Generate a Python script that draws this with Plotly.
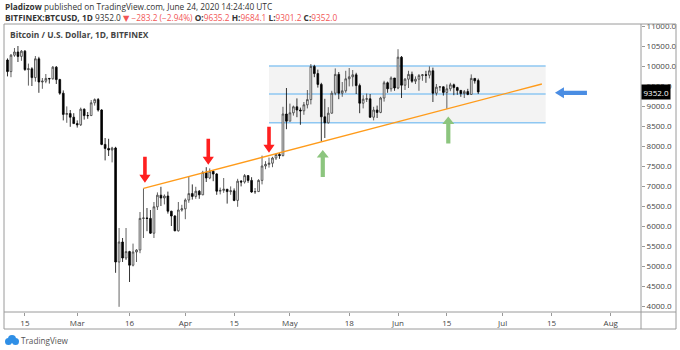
import pandas as pd
import plotly.graph_objects as go

# ---------------- data ----------------
dates = pd.date_range("2020-02-10", "2020-06-24", freq="D")

opens = [10150, 9860, 10270, 10350, 10240, 10370, 9910, 9930, 9710, 10180,
         9600, 9620, 9690, 9680, 9970, 9660, 9320, 8790, 8810, 8720,
         # Mar
         8560, 8530, 8920, 8760, 8760, 9080, 9160, 8900, 8040, 7940,
         7900, 7950, 5100, 5600, 5200, 5360, 5020, 5350, 5400, 6190,
         6200, 6190, 5820, 6480, 6770, 6700, 6750, 6370, 6250, 5880, 6400,
         # Apr
         6430, 6650, 6810, 6740, 6870, 6780, 7340, 7200, 7370, 7300,
         6870, 6890, 6920, 6860, 6880, 6640, 7120, 7100, 7260, 7140,
         6850, 6860, 7140, 7500, 7540, 7570, 7700, 7790, 7760, 8800,
         # May
         8620, 8830, 8980, 8900, 8880, 9030, 9160, 9990, 9810, 9540,
         8730, 8580, 8820, 9320, 9790, 9320, 9380, 9680, 9730, 9780,
         9510, 9070, 9170, 9180, 8720, 8900, 8840, 9200, 9580, 9430, 9700,
         # Jun
         9450, 10220, 9520, 9670, 9790, 9620, 9670, 9760, 9780, 9770,
         9880, 9320, 9470, 9480, 9340, 9430, 9530, 9460, 9390, 9310,
         9360, 9290, 9690, 9635.2]

highs = [10190, 10300, 10450, 10500, 10400, 10400, 10060, 9970, 10250, 10230,
         9700, 9800, 9700, 10000, 10000, 9680, 9390, 8990, 8900, 8820,
         # Mar
         8640, 8960, 8940, 8850, 9150, 9190, 9200, 8920, 8200, 8180,
         7980, 7980, 5950, 5700, 5950, 5380, 5560, 5420, 6350, 6940,
         6450, 6400, 6600, 6840, 6980, 6790, 6860, 6380, 6270, 6600, 6530,
         # Apr
         6690, 7230, 7040, 6980, 6900, 7380, 7470, 7440, 7390, 7320,
         6960, 7200, 6920, 6990, 6940, 7180, 7150, 7300, 7260, 7220,
         6950, 7170, 7760, 7620, 7710, 7730, 7800, 7830, 8980, 9450,
         # May
         9060, 9010, 9190, 8960, 9100, 9400, 10050, 10030, 9910, 9580,
         9180, 8970, 9380, 9940, 9850, 9600, 9880, 9950, 9900, 9830,
         9560, 9270, 9310, 9300, 8980, 9010, 9230, 9630, 9610, 9740, 9700,
         # Jun
         10420, 10250, 9700, 9880, 9860, 9740, 9800, 9800, 9880, 9990,
         9960, 9550, 9500, 9490, 9540, 9580, 9560, 9480, 9400, 9400,
         9430, 9790, 9700, 9684.1]

lows = [9740, 9720, 10230, 10100, 10130, 9880, 9510, 9500, 9610, 9330,
        9430, 9570, 9560, 9660, 9550, 9280, 8640, 8580, 8480, 8560,
        # Mar
        8460, 8500, 8660, 8680, 8750, 9010, 8860, 8020, 7640, 7750,
        7590, 4830, 3980, 5100, 5150, 4600, 4990, 5100, 5320, 5700,
        5870, 5800, 5700, 6400, 6500, 6540, 6310, 6000, 5870, 5860, 6360,
        # Apr
        6170, 6580, 6660, 6680, 6680, 6770, 7100, 7170, 7120, 6780,
        6790, 6830, 6560, 6780, 6620, 6480, 6990, 7060, 7080, 6830,
        6800, 6850, 7040, 7420, 7460, 7470, 7650, 7680, 7740, 8420,
        # May
        8620, 8760, 8720, 8530, 8780, 8940, 9040, 9720, 9460, 8110,
        8200, 8560, 8810, 9270, 9170, 9230, 9330, 9490, 9490, 9300,
        8820, 8940, 9100, 8700, 8640, 8700, 8820, 9110, 9330, 9360, 9380,
        # Jun
        9420, 9200, 9400, 9450, 9580, 9550, 9380, 9630, 9580, 9690,
        9100, 9260, 9380, 9260, 8930, 9370, 9270, 9280, 9230, 9200,
        9270, 9280, 9560, 9301.2]

closes = [9860, 10270, 10350, 10240, 10370, 9910, 9930, 9710, 10180, 9600,
          9620, 9690, 9680, 9970, 9660, 9320, 8790, 8810, 8720, 8560,
          # Mar
          8530, 8920, 8760, 8760, 9080, 9160, 8900, 8040, 7940, 7900,
          7950, 5100, 5600, 5200, 5360, 5020, 5350, 5400, 6190, 6200,
          6190, 5820, 6480, 6770, 6700, 6750, 6370, 6250, 5880, 6400, 6430,
          # Apr
          6650, 6810, 6740, 6870, 6780, 7340, 7200, 7370, 7300, 6870,
          6890, 6920, 6860, 6880, 6640, 7120, 7100, 7260, 7140, 6850,
          6860, 7140, 7500, 7540, 7570, 7700, 7790, 7760, 8800, 8620,
          # May
          8830, 8980, 8900, 8880, 9030, 9160, 9990, 9810, 9540, 8730,
          8580, 8820, 9320, 9790, 9320, 9380, 9680, 9730, 9780, 9510,
          9070, 9170, 9180, 8720, 8900, 8840, 9200, 9580, 9430, 9700, 9450,
          # Jun
          10220, 9520, 9670, 9790, 9620, 9670, 9760, 9780, 9770, 9880,
          9320, 9470, 9480, 9340, 9430, 9530, 9460, 9390, 9310, 9360,
          9290, 9690, 9630, 9352.0]

x_tick_dates = ["2020-02-15", "2020-03-01", "2020-03-16", "2020-04-01", "2020-04-15",
                "2020-05-01", "2020-05-18", "2020-06-01", "2020-06-15", "2020-07-01",
                "2020-07-15", "2020-08-01"]
x_tick_text = ["15", "Mar", "16", "Apr", "15", "May", "18", "Jun", "15", "Jul", "15", "Aug"]
y_tick_vals = [4000 + 500 * i for i in range(15)]
y_tick_text = [f"{v:.1f}" for v in y_tick_vals]

# drawings (annotation positions)
trend_start = ("2020-03-20", 6940)
trend_end = ("2020-07-12 06:00", 9550)
box_x = ("2020-04-25", "2020-07-13 08:00")
box_levels = [10000, 9300, 8580]
red_arrows = [("2020-03-20 10:00", 7080), ("2020-04-07 14:00", 7530), ("2020-04-25 00:00", 7830)]
green_arrows = [("2020-05-10 10:00", 7900), ("2020-06-15 10:00", 8735)]
blue_arrow = ("2020-07-16 00:00", 9330)
last_price = 9352.0

# ---------------- geometry helpers ----------------
PX_L, PX_R, PY_T, PY_B = 4, 641, 24, 312
X0 = pd.Timestamp("2020-02-09")
PX_PER_DAY = 3.487
X1 = X0 + pd.Timedelta(days=(PX_R - PX_L) / PX_PER_DAY)
Y0, Y1 = 3850, 11050
PRICE_PER_PX = (Y1 - Y0) / (PY_B - PY_T)


def d(px):
    return pd.Timedelta(days=px / PX_PER_DAY)


def pv(px):
    return px * PRICE_PER_PX


def px_x(px):
    return (px - PX_L) / (PX_R - PX_L)


def px_y(py):
    return (PY_B - py) / (PY_B - PY_T)


fig = go.Figure()

fig.add_trace(go.Candlestick(
    x=dates, open=opens, high=highs, low=lows, close=closes,
    increasing=dict(line=dict(color="#3a3a3a", width=0.8), fillcolor="#ffffff"),
    decreasing=dict(line=dict(color="#000000", width=0.8), fillcolor="#000000"),
    whiskerwidth=0, showlegend=False, hoverinfo="skip"))

# trend line
fig.add_trace(go.Scatter(
    x=[pd.Timestamp(trend_start[0]), pd.Timestamp(trend_end[0])],
    y=[trend_start[1], trend_end[1]], mode="lines",
    line=dict(color="#ff9b1a", width=1.4), showlegend=False, hoverinfo="skip"))


def poly(pts, color):
    xs = [p[0] for p in pts] + [pts[0][0]]
    ys = [p[1] for p in pts] + [pts[0][1]]
    fig.add_trace(go.Scatter(x=xs, y=ys, mode="lines", fill="toself",
                             fillcolor=color, line=dict(width=0, color=color),
                             showlegend=False, hoverinfo="skip"))


for t, p in red_arrows:
    t = pd.Timestamp(t)
    poly([(t - d(1.8), p + pv(26)), (t + d(1.8), p + pv(26)), (t + d(1.8), p + pv(8)),
          (t + d(5.6), p + pv(8)), (t, p), (t - d(5.6), p + pv(8)), (t - d(1.8), p + pv(8))],
         "#ff1f1f")

for t, p in green_arrows:
    t = pd.Timestamp(t)
    poly([(t - d(2.1), p - pv(27)), (t + d(2.1), p - pv(27)), (t + d(2.1), p - pv(7.5)),
          (t + d(6), p - pv(7.5)), (t, p), (t - d(6), p - pv(7.5)), (t - d(2.1), p - pv(7.5))],
         "#8cc57e")

t, p = pd.Timestamp(blue_arrow[0]), blue_arrow[1]
poly([(t, p), (t + d(9), p + pv(5.5)), (t + d(9), p + pv(2.1)), (t + d(32), p + pv(2.1)),
      (t + d(32), p - pv(2.1)), (t + d(9), p - pv(2.1)), (t + d(9), p - pv(5.5))],
     "#4a8de3")

shapes = []
# range box
shapes.append(dict(type="rect", xref="x", yref="y", x0=box_x[0], x1=box_x[1],
                   y0=box_levels[2], y1=box_levels[0], fillcolor="#f3f3f3",
                   line=dict(width=0), layer="below"))
for lv in box_levels:
    shapes.append(dict(type="line", xref="x", yref="y", x0=box_x[0], x1=box_x[1],
                       y0=lv, y1=lv, line=dict(color="#8ec7f2", width=1.4), layer="below"))

# frame
frame_col = "#9a9a9a"
shapes.append(dict(type="rect", xref="paper", yref="paper", x0=px_x(4), x1=px_x(676),
                   y0=px_y(329), y1=px_y(24), line=dict(color=frame_col, width=1)))
shapes.append(dict(type="line", xref="paper", yref="paper", x0=1, x1=1,
                   y0=px_y(329), y1=px_y(24), line=dict(color=frame_col, width=1)))
shapes.append(dict(type="line", xref="paper", yref="paper", x0=0, x1=px_x(676),
                   y0=0, y1=0, line=dict(color=frame_col, width=1)))
# TradingView logo (simple cloud)
logo_col = "#2f8fe6"
shapes.append(dict(type="circle", xref="paper", yref="paper", x0=px_x(5), x1=px_x(12),
                   y0=px_y(345), y1=px_y(338), fillcolor=logo_col, line=dict(width=0)))
shapes.append(dict(type="circle", xref="paper", yref="paper", x0=px_x(8), x1=px_x(16),
                   y0=px_y(343), y1=px_y(335), fillcolor=logo_col, line=dict(width=0)))
shapes.append(dict(type="circle", xref="paper", yref="paper", x0=px_x(12), x1=px_x(19),
                   y0=px_y(345), y1=px_y(338), fillcolor=logo_col, line=dict(width=0)))

FONT = "Open Sans, DejaVu Sans, sans-serif"
red = "#f25656"
annotations = [
    dict(xref="paper", yref="paper", x=px_x(4), y=px_y(6.5), xanchor="left", yanchor="middle",
         text="<b>Pladizow</b> published on TradingView.com, June 24, 2020 14:24:40 UTC",
         showarrow=False, borderpad=0, font=dict(size=8.3, color="#333333", family=FONT)),
    dict(xref="paper", yref="paper", x=px_x(4), y=px_y(17.5), xanchor="left", yanchor="middle",
         text=("<b>BITFINEX:BTCUSD, 1D</b> 9352.0 "
               f"<span style='color:{red}'>▼ −283.2 (−2.94%)</span> "
               f"<b>O:</b><span style='color:{red}'>9635.2</span> "
               f"<b>H:</b><span style='color:{red}'>9684.1</span> "
               f"<b>L:</b><span style='color:{red}'>9301.2</span> "
               f"<b>C:</b><span style='color:{red}'>9352.0</span>"),
         showarrow=False, borderpad=0, font=dict(size=8.3, color="#333333", family=FONT)),
    dict(xref="paper", yref="paper", x=px_x(9), y=px_y(35), xanchor="left", yanchor="middle",
         text="<b>Bitcoin / U.S. Dollar, 1D, BITFINEX</b>", borderpad=0,
         showarrow=False, font=dict(size=8.4, color="#444444", family=FONT)),
    dict(xref="paper", yref="y", x=1, y=last_price, xanchor="left", yanchor="middle",
         text="9352.0", showarrow=False, bgcolor="#000000", borderpad=1.5,
         font=dict(size=8, color="#ffffff", family=FONT)),
    dict(xref="paper", yref="paper", x=px_x(20), y=px_y(340), xanchor="left", yanchor="middle",
         text="TradingView", showarrow=False, borderpad=0,
         font=dict(size=8.2, color="#555555", family=FONT)),
]

fig.update_layout(
    width=680, height=350,
    margin=dict(l=PX_L, r=680 - PX_R, t=PY_T, b=350 - PY_B),
    paper_bgcolor="#ffffff", plot_bgcolor="#ffffff",
    showlegend=False, shapes=shapes, annotations=annotations,
    font=dict(family=FONT, size=8, color="#444444"),
    xaxis=dict(type="date", range=[X0, X1], rangeslider=dict(visible=False),
               tickvals=x_tick_dates, ticktext=x_tick_text, ticks="outside",
               ticklen=3, tickcolor="#999999", showgrid=False, zeroline=False,
               showline=False, tickfont=dict(size=8, color="#444444", family=FONT),
               fixedrange=True),
    yaxis=dict(side="right", range=[Y0, Y1], tickvals=y_tick_vals, ticktext=y_tick_text,
               ticks="outside", ticklen=3, tickcolor="#999999", showgrid=False,
               zeroline=False, showline=False,
               tickfont=dict(size=8, color="#444444", family=FONT), fixedrange=True),
)

fig.write_html("out.html", config={"displayModeBar": False})
